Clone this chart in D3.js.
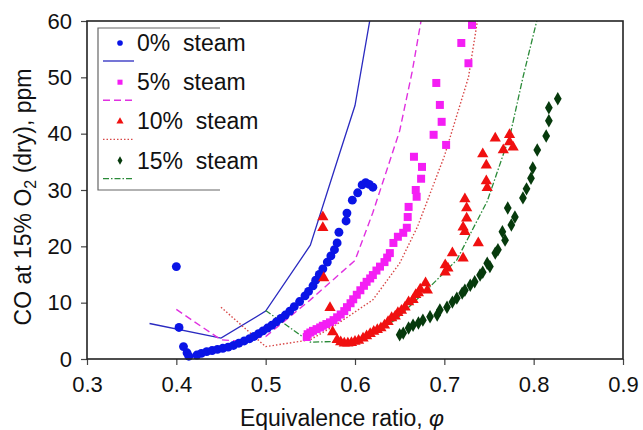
<!DOCTYPE html>
<html>
<head>
<meta charset="utf-8">
<script src="https://cdn.jsdelivr.net/npm/d3@7"></script>
<style>
  body { margin: 0; background: #fff; }
  text { font-family: "Liberation Sans", Arial, sans-serif; fill: #111; }
</style>
</head>
<body>
<div class="chart"></div>
<script>
// measured points, [phi, CO ppm]
var steam0Points = [[0.400,16.4],[0.403,5.6],[0.408,2.2],[0.412,1.1],[0.414,0.5],
  [0.423,0.7],[0.428,1.0],[0.434,1.3],[0.440,1.5],[0.446,1.7],[0.452,1.9],[0.458,2.1],
  [0.464,2.4],[0.470,2.8],[0.476,3.2],[0.482,3.6],[0.487,4.0],[0.492,4.5],[0.497,5.0],
  [0.502,5.5],[0.507,6.0],[0.512,6.6],[0.517,7.2],[0.522,7.8],[0.527,8.5],[0.532,9.3],
  [0.538,10.2],[0.544,11.2],[0.548,12.0],[0.553,13.0],[0.556,14.0],[0.560,15.0],
  [0.564,16.0],[0.569,17.2],[0.573,18.3],[0.577,19.4],[0.580,20.6],[0.582,22.5],
  [0.590,24.5],[0.591,25.9],[0.597,28.2],[0.603,29.5],[0.608,30.9],[0.612,31.3],
  [0.616,31.0],[0.620,30.5]];
var steam5Points = [[0.546,3.9],[0.547,4.4],[0.550,4.7],[0.553,5.0],[0.557,5.3],
  [0.561,5.6],[0.564,5.9],[0.568,6.2],[0.572,6.5],[0.576,6.9],[0.580,7.4],[0.584,7.9],
  [0.588,8.5],[0.591,9.2],[0.595,9.9],[0.598,10.6],[0.602,11.4],[0.606,12.2],
  [0.610,13.0],[0.613,13.7],[0.617,14.3],[0.620,14.9],[0.624,15.7],[0.628,16.4],
  [0.633,17.2],[0.636,18.0],[0.639,18.8],[0.643,20.6],[0.648,21.7],[0.654,22.4],
  [0.658,23.3],[0.659,25.2],[0.660,27.0],[0.669,28.8],[0.668,30.0],[0.674,32.0],
  [0.675,34.1],[0.666,35.9],[0.702,38.0],[0.688,39.8],[0.697,42.1],[0.695,45.1],
  [0.691,49.0],[0.727,52.5],[0.719,56.1],[0.731,59.3]];
var steam10Points = [[0.564,25.2],[0.564,23.3],[0.565,14.4],[0.572,9.1],[0.575,4.8],
  [0.580,3.4],[0.584,3.0],[0.588,2.8],[0.592,2.8],[0.596,2.9],[0.600,3.1],[0.604,3.3],
  [0.609,3.7],[0.613,4.1],[0.617,4.5],[0.621,4.9],[0.625,5.2],[0.629,5.5],[0.633,6.0],
  [0.637,6.6],[0.641,7.3],[0.645,7.6],[0.648,8.2],[0.652,8.6],[0.656,9.2],[0.660,10.1],
  [0.665,10.5],[0.668,11.4],[0.671,11.7],[0.673,12.4],[0.679,13.5],[0.681,12.2],
  [0.701,15.4],[0.701,16.7],[0.704,16.1],[0.709,18.8],[0.721,17.9],[0.738,20.6],
  [0.721,23.4],[0.723,22.6],[0.725,25.0],[0.725,26.8],[0.723,28.4],[0.748,30.4],
  [0.747,31.6],[0.747,34.4],[0.743,36.4],[0.757,39.2],[0.766,37.1],[0.773,39.8],
  [0.773,38.5],[0.777,37.6]];
var steam15Points = [[0.650,4.3],[0.654,4.6],[0.660,5.5],[0.665,6.0],[0.671,6.4],
  [0.676,6.9],[0.684,7.5],[0.692,7.8],[0.695,8.7],[0.703,9.2],[0.709,10.1],[0.714,10.8],
  [0.720,11.7],[0.723,12.2],[0.729,13.1],[0.734,13.7],[0.740,14.9],[0.743,15.4],
  [0.748,17.0],[0.751,16.4],[0.757,18.8],[0.760,19.4],[0.768,21.1],[0.765,22.6],
  [0.775,23.8],[0.779,25.2],[0.771,26.8],[0.788,28.6],[0.792,30.2],[0.797,32.1],
  [0.799,33.9],[0.804,37.1],[0.814,39.6],[0.817,42.3],[0.817,44.6],[0.827,46.2]];

// model curves
var steam0Model = [[0.37,6.3],[0.45,3.7],[0.50,8.5],[0.55,20.2],[0.583,36.6],[0.60,45],[0.617,60.5]];
var steam5Model = [[0.40,8.8],[0.45,3.4],[0.47,3.2],[0.50,4.0],[0.55,10.5],[0.60,17.5],
  [0.62,26],[0.65,40.5],[0.664,51],[0.675,61]];
var steam10Model = [[0.45,9.2],[0.50,2.2],[0.55,3.4],[0.58,6.2],[0.62,10.5],[0.65,17],
  [0.67,23.5],[0.70,36],[0.727,50],[0.738,61]];
var steam15Model = [[0.50,8.6],[0.55,3.0],[0.60,3.2],[0.645,6.9],[0.68,12.2],[0.714,17.6],
  [0.748,28],[0.774,40],[0.788,50],[0.805,61]];

var xTicks = [0.3, 0.4, 0.5, 0.6, 0.7, 0.8, 0.9];
var yTicks = [0, 10, 20, 30, 40, 50, 60];
var legendLabels = ["0%  steam", "5%  steam", "10%  steam", "15%  steam"];

var margin = {top: 21, right: 20, bottom: 71, left: 87},
    width = 643 - margin.left - margin.right,
    height = 430 - margin.top - margin.bottom;

var svg = d3.select(".chart").append("svg")
    .attr("width", 643)
    .attr("height", 430);

var g = svg.append("g")
    .attr("transform", `translate(${margin.left}, ${margin.top})`);

var x = d3.scaleLinear().domain([0.3, 0.9]).range([0, width]);
var y = d3.scaleLinear().domain([0, 60]).range([height, 0]);

var series = [
  {points: steam0Points, model: steam0Model, shape: d3.symbolCircle, size: 62, color: "#0a14e6",
   line: "#2a2ac0", dash: null, lw: 1.3},
  {points: steam5Points, model: steam5Model, shape: d3.symbolSquare, size: 64, color: "#f41ef4",
   line: "#e030e0", dash: "7,4", lw: 1.4},
  {points: steam10Points, model: steam10Model, shape: d3.symbolTriangle, size: 55, color: "#f01010",
   line: "#d84848", dash: "1.5,2", lw: 1.4},
  {points: steam15Points, model: steam15Model, shape: d3.symbolDiamond, size: 52, color: "#063a0c",
   line: "#2a8a38", dash: "6,2,1.5,2", lw: 1.3}
];

g.append("clipPath").attr("id", "plot-clip")
  .append("rect").attr("width", width).attr("height", height);

var line = d3.line().x(d => x(d[0])).y(d => y(d[1]));

// model lines
g.append("g").attr("clip-path", "url(#plot-clip)")
  .selectAll("path")
  .data(series)
  .enter().append("path")
  .attr("d", d => line(d.model))
  .attr("fill", "none")
  .attr("stroke", d => d.line)
  .attr("stroke-width", d => d.lw)
  .attr("stroke-dasharray", d => d.dash);

// data markers
series.forEach(s => {
  g.append("g").selectAll("path")
    .data(s.points)
    .enter().append("path")
    .attr("transform", d => `translate(${x(d[0])}, ${y(d[1])})`)
    .attr("d", d3.symbol().type(s.shape).size(s.size))
    .attr("fill", s.color);
});

// axes
var xAxis = g.append("g")
  .attr("transform", `translate(0, ${height})`)
  .call(d3.axisBottom(x).tickValues(xTicks).tickSize(6).tickPadding(11).tickFormat(d3.format(".1f")));
var yAxis = g.append("g")
  .call(d3.axisLeft(y).tickValues(yTicks).tickSize(6).tickPadding(9));

[xAxis, yAxis].forEach(a => {
  a.select(".domain").remove();
  a.selectAll("line").attr("stroke", "#444").attr("stroke-width", 1.2);
  a.selectAll("text").attr("font-size", "22px").attr("fill", "#111")
    .attr("font-family", "'Liberation Sans', Arial, sans-serif");
});

g.append("rect")
  .attr("width", width).attr("height", height)
  .attr("fill", "none")
  .attr("stroke", "#222")
  .attr("stroke-width", 1.6);

// axis titles
svg.append("text")
  .attr("x", 342)
  .attr("y", 426)
  .attr("text-anchor", "middle")
  .attr("font-size", "23px")
  .text("Equivalence ratio, ")
  .append("tspan").attr("font-style", "italic").text("φ");

var yTitle = svg.append("text")
  .attr("transform", "translate(31, 197) rotate(-90)")
  .attr("text-anchor", "middle")
  .attr("font-size", "23px");
yTitle.append("tspan").text("CO at 15% O");
yTitle.append("tspan").attr("font-size", "16px").attr("dy", 5).text("2");
yTitle.append("tspan").attr("dy", -5).text(" (dry), ppm");

// legend
var lg = svg.append("g");
lg.append("path")
  .attr("d", "M220,28 H98 V190 H220")
  .attr("fill", "none")
  .attr("stroke", "#666")
  .attr("stroke-width", 1.2);

var rows = lg.selectAll(".row")
  .data(series)
  .enter().append("g")
  .attr("class", "row")
  .attr("transform", (d, i) => `translate(0, ${43 + i * 39.2})`);

rows.append("path")
  .attr("transform", "translate(120, 0)")
  .attr("d", d => d3.symbol().type(d.shape).size(d.size * 0.4)())
  .attr("fill", d => d.color);

rows.append("text")
  .attr("x", 137)
  .attr("y", 8)
  .attr("font-size", "23px")
  .style("white-space", "pre")
  .text((d, i) => legendLabels[i]);

rows.append("line")
  .attr("x1", 103).attr("x2", 134)
  .attr("y1", 18).attr("y2", 18)
  .attr("stroke", d => d.line)
  .attr("stroke-width", d => d.lw)
  .attr("stroke-dasharray", d => d.dash);
</script>
</body>
</html>
